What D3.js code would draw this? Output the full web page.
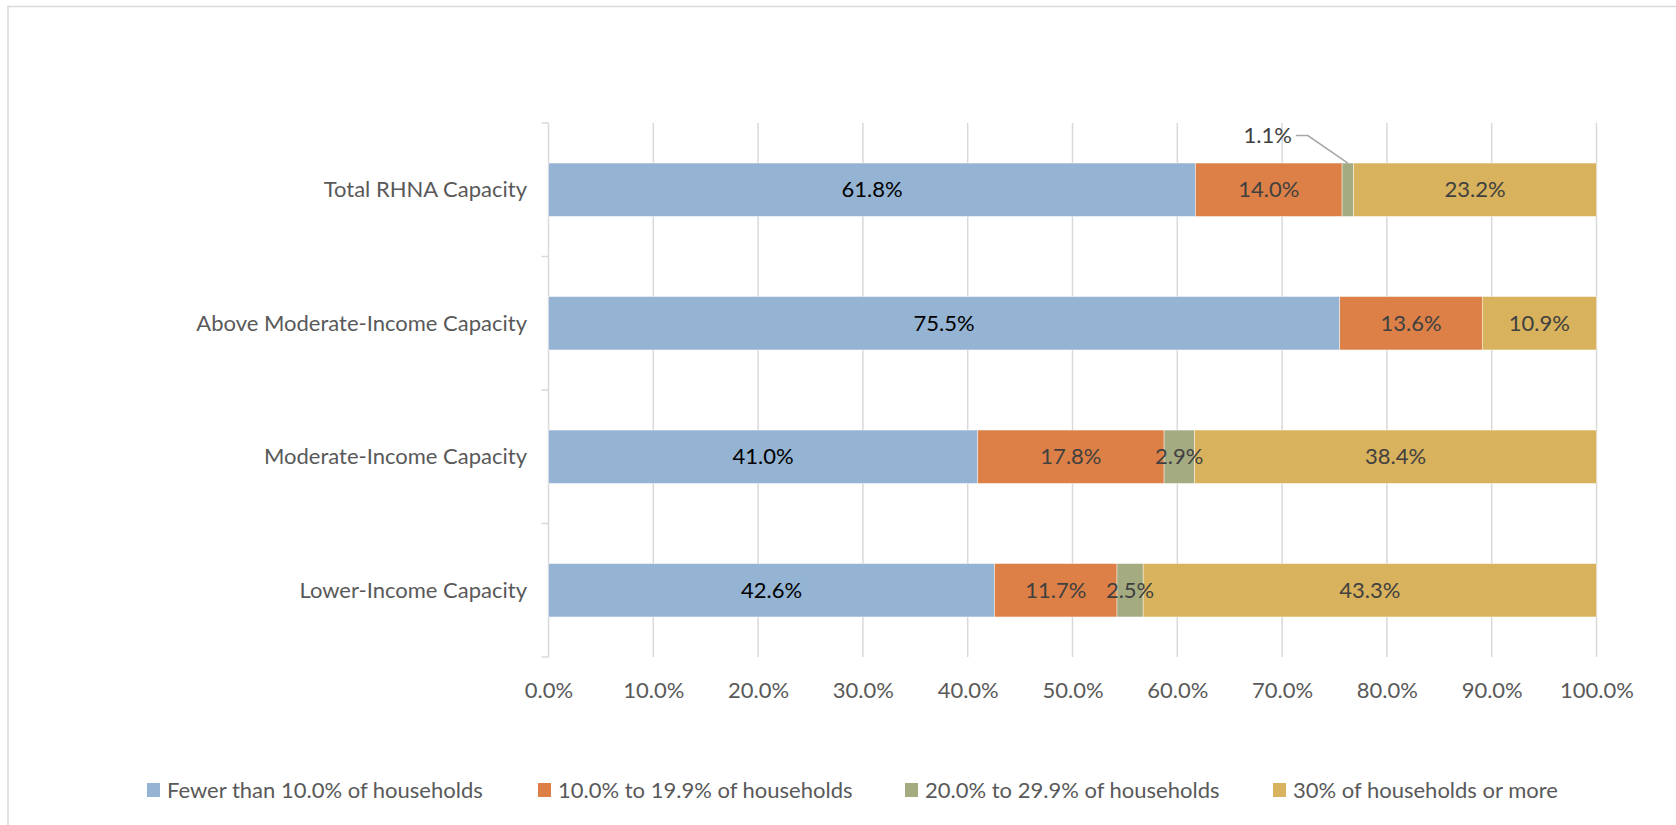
<!DOCTYPE html>
<html>
<head>
<meta charset="utf-8">
<script src="https://cdn.jsdelivr.net/npm/d3@7"></script>
<style>
  html, body { margin: 0; padding: 0; background: #fff; }
  svg { display: block; font-family: Lato, "Open Sans", sans-serif; }
</style>
</head>
<body>
<svg id="chart" width="1676" height="825"></svg>
<script>
// Capacity categories, top to bottom
const categories = [
  "Total RHNA Capacity",
  "Above Moderate-Income Capacity",
  "Moderate-Income Capacity",
  "Lower-Income Capacity"
];

// Share of households per band (percent)
const seriesNames = [
  "Fewer than 10.0% of households",
  "10.0% to 19.9% of households",
  "20.0% to 29.9% of households",
  "30% of households or more"
];
const fewerThan10 = [61.8, 75.5, 41.0, 42.6];
const from10to19  = [14.0, 13.6, 17.8, 11.7];
const from20to29  = [1.1, 0.0, 2.9, 2.5];
const over30      = [23.2, 10.9, 38.4, 43.3];

const xTicks = [0, 0.1, 0.2, 0.3, 0.4, 0.5, 0.6, 0.7, 0.8, 0.9, 1.0];

const colors = ["#95B3D2", "#DD8047", "#A5AB81", "#D8B25C"];
const labelColors = ["#000000", "#404040", "#404040", "#404040"];

const fontSize = 22;

const rows = categories.map((c, i) => ({
  category: c,
  s0: fewerThan10[i],
  s1: from10to19[i],
  s2: from20to29[i],
  s3: over30[i]
}));
const keys = ["s0", "s1", "s2", "s3"];
const values = { s0: fewerThan10, s1: from10to19, s2: from20to29, s3: over30 };

// 100% stacked layout
const stacked = d3.stack().keys(keys).offset(d3.stackOffsetExpand)(rows);

const svg = d3.select("#chart");

// outer chart frame (left and top edges visible)
svg.append("rect")
  .attr("x", 8).attr("y", 6.5)
  .attr("width", 1700).attr("height", 900)
  .attr("fill", "none")
  .attr("stroke", "#d9d9d9")
  .attr("stroke-width", 1.5);

const plot = { left: 548.5, right: 1596.5, top: 123, bottom: 657 };

const x = d3.scaleLinear().domain([0, 1]).range([plot.left, plot.right]);
const y = d3.scaleBand()
  .domain(categories)
  .range([plot.top, plot.bottom])
  .paddingInner(0.6)
  .paddingOuter(0.3);

// vertical gridlines
svg.append("g")
  .selectAll("line")
  .data(xTicks.slice(1))
  .join("line")
  .attr("x1", d => x(d)).attr("x2", d => x(d))
  .attr("y1", plot.top).attr("y2", plot.bottom)
  .attr("stroke", "#d9d9d9")
  .attr("stroke-width", 1.5);

// category axis line with ticks between categories
const yAxisG = svg.append("g");
yAxisG.append("line")
  .attr("x1", plot.left).attr("x2", plot.left)
  .attr("y1", plot.top).attr("y2", plot.bottom)
  .attr("stroke", "#d9d9d9").attr("stroke-width", 1.5);
const step = y.step();
const boundaries = d3.range(categories.length + 1).map(i => plot.top + i * step);
yAxisG.selectAll("line.tick")
  .data(boundaries)
  .join("line")
  .attr("class", "tick")
  .attr("x1", plot.left - 7).attr("x2", plot.left)
  .attr("y1", d => d).attr("y2", d => d)
  .attr("stroke", "#d9d9d9").attr("stroke-width", 1.5);

yAxisG.selectAll("text")
  .data(categories)
  .join("text")
  .attr("x", 527)
  .attr("y", d => y(d) + y.bandwidth() / 2)
  .attr("dy", "0.35em")
  .attr("text-anchor", "end")
  .attr("font-size", fontSize)
  .attr("fill", "#595959")
  .text(d => d);

// x axis tick labels
const xAxis = d3.axisBottom(x)
  .tickValues(xTicks)
  .tickFormat(d => (d * 100).toFixed(1) + "%")
  .tickSize(0)
  .tickPadding(0);
const xAxisG = svg.append("g")
  .attr("transform", `translate(0, ${plot.bottom})`)
  .call(xAxis);
xAxisG.select(".domain").remove();
xAxisG.selectAll("text")
  .attr("y", 33)
  .attr("dy", "0.35em")
  .attr("font-size", fontSize)
  .attr("font-family", "Lato, 'Open Sans', sans-serif")
  .attr("fill", "#595959");

// stacked bar segments
const layers = svg.append("g")
  .selectAll("g")
  .data(stacked)
  .join("g")
  .attr("fill", (d, i) => colors[i]);

layers.selectAll("rect")
  .data(d => d)
  .join("rect")
  .attr("x", d => x(d[0]))
  .attr("y", d => y(d.data.category))
  .attr("width", d => Math.max(0, x(d[1]) - x(d[0])))
  .attr("height", y.bandwidth())
  .attr("stroke", "#ffffff")
  .attr("stroke-width", 0.6)
  .attr("stroke-opacity", 0.7);

// value labels
const labelsG = svg.append("g");
stacked.forEach((layer, si) => {
  layer.forEach((seg, ci) => {
    const v = values[layer.key][ci];
    if (v <= 0) return;
    const cx = (x(seg[0]) + x(seg[1])) / 2;
    const cy = y(seg.data.category) + y.bandwidth() / 2;
    const text = v.toFixed(1) + "%";
    if (x(seg[1]) - x(seg[0]) < 14) {
      // narrow slice: label sits above the bar with a leader line
      const top = y(seg.data.category);
      const lx = cx - 84, ly = top - 28;
      labelsG.append("polyline")
        .attr("points", [[lx + 32, ly + 0.5], [lx + 44, ly + 0.5], [cx, top]].map(p => p.join(",")).join(" "))
        .attr("fill", "none")
        .attr("stroke", "#a6a6a6")
        .attr("stroke-width", 1.5);
      labelsG.append("text")
        .attr("x", lx + 28)
        .attr("y", ly)
        .attr("dy", "0.35em")
        .attr("text-anchor", "end")
        .attr("font-size", fontSize)
        .attr("fill", "#404040")
        .text(text);
    } else {
      labelsG.append("text")
        .attr("x", cx)
        .attr("y", cy)
        .attr("dy", "0.35em")
        .attr("text-anchor", "middle")
        .attr("font-size", fontSize)
        .attr("fill", labelColors[si])
        .text(text);
    }
  });
});

// legend
const legendX = [147, 538, 905, 1273];
const legend = svg.append("g")
  .selectAll("g")
  .data(seriesNames)
  .join("g")
  .attr("transform", (d, i) => `translate(${legendX[i]}, 790)`);
legend.append("rect")
  .attr("x", 0).attr("y", -7)
  .attr("width", 13).attr("height", 14)
  .attr("fill", (d, i) => colors[i]);
legend.append("text")
  .attr("x", 20)
  .attr("y", 0)
  .attr("dy", "0.35em")
  .attr("font-size", fontSize)
  .attr("fill", "#595959")
  .text(d => d);
</script>
</body>
</html>
